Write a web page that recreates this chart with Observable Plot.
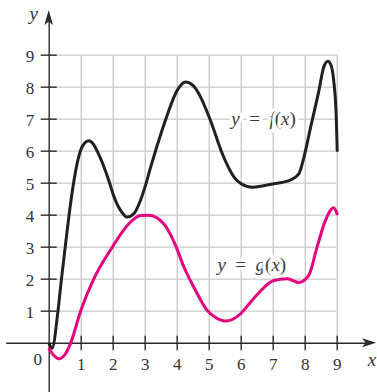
<!DOCTYPE html>
<html><head><meta charset="utf-8">
<script src="https://cdn.jsdelivr.net/npm/d3@7"></script>
<script src="https://cdn.jsdelivr.net/npm/@observablehq/plot@0.6"></script>
<style>body{margin:0;background:#fff} svg{display:block;background:#fff}</style>
</head><body><div id="chart"></div>
<script>
// f(x) samples
const fX = [0, 0.09, 0.27, 0.38, 0.5, 0.62, 0.76, 0.97, 1.1, 1.24, 1.38, 1.5, 1.89, 2.0, 2.23, 2.44, 2.65, 2.85, 3.0, 3.17, 3.35, 3.63, 4.0, 4.26, 4.5, 4.68, 5.04, 5.41, 5.77, 6.0, 6.35, 6.7, 7.02, 7.54, 7.8, 7.96, 8.17, 8.43, 8.58, 8.71, 8.81, 8.89, 8.97, 9.0];
const fY = [-0.02, -0.16, 0.97, 1.98, 3.0, 4.0, 5.0, 6.0, 6.25, 6.33, 6.22, 6.0, 5.0, 4.65, 4.15, 3.94, 4.05, 4.46, 4.9, 5.5, 6.1, 6.96, 7.9, 8.16, 8.05, 7.79, 6.96, 5.92, 5.2, 4.98, 4.87, 4.92, 4.98, 5.1, 5.29, 5.81, 6.75, 7.9, 8.63, 8.81, 8.68, 8.21, 7.06, 6.02];
// g(x) samples
const gX = [0, 0.14, 0.3, 0.51, 0.67, 0.98, 1.39, 1.97, 2.44, 2.85, 3.11, 3.58, 3.95, 4.21, 4.52, 4.94, 5.2, 5.51, 5.98, 6.29, 6.5, 7.02, 7.44, 7.8, 8.11, 8.37, 8.63, 8.89, 9.0];
const gY = [-0.18, -0.38, -0.49, -0.33, 0, 1.0, 2.0, 3.0, 3.68, 3.99, 4.0, 3.73, 3.05, 2.38, 1.75, 1.02, 0.8, 0.69, 0.92, 1.28, 1.52, 1.96, 2.01, 1.9, 2.12, 3.0, 3.83, 4.23, 4.04];

const xTicks = [1, 2, 3, 4, 5, 6, 7, 8, 9];
const yTicks = [1, 2, 3, 4, 5, 6, 7, 8, 9];
const gridMax = 9;
const curveLabels = ["y = f(x)", "y = g(x)"];
const labelX = [6.7, 6.33];
const labelY = [7.02, 2.46];
const axisNames = ["x", "y"];

const xDomain = [-1.522, 10.259];
const yDomain = [-1.541, 10.709];
const xAxisStart = -1.33, xAxisEnd = 10.23, yAxisEnd = 10.4;

const fData = fX.map((x, i) => ({x, y: fY[i]}));
const gData = gX.map((x, i) => ({x, y: gY[i]}));
const labelData = curveLabels.map((t, i) => ({t, x: labelX[i], y: labelY[i]}));

const serif = "Liberation Serif";
const axisColor = "#2b2b2b";

function arrowHeads(index, scales) {
  const g = d3.create("svg:g");
  const x0 = scales.x(0), y0 = scales.y(0);
  const yt = scales.y(yAxisEnd), xr = scales.x(xAxisEnd);
  g.append("path")
    .attr("d", `M${x0},${yt} L${x0 + 4.3},${yt + 15} L${x0},${yt + 11.5} L${x0 - 4.3},${yt + 15} Z`)
    .attr("fill", axisColor);
  g.append("path")
    .attr("d", `M${xr},${y0} L${xr - 14},${y0 - 4.5} L${xr - 10.5},${y0} L${xr - 14},${y0 + 4.5} Z`)
    .attr("fill", axisColor);
  return g.node();
}

const plot = Plot.plot({
  width: 377,
  height: 392,
  margin: 0,
  x: {domain: xDomain, axis: null},
  y: {domain: yDomain, axis: null},
  style: {background: "#fff"},
  marks: [
    Plot.ruleX(xTicks, {x: d => d, y1: 0, y2: gridMax, stroke: "#c9c9cc", strokeWidth: 1.3}),
    Plot.ruleY(yTicks, {y: d => d, x1: 0, x2: gridMax, stroke: "#c9c9cc", strokeWidth: 1.3}),
    Plot.text(labelData, {x: "x", y: "y", text: "t", fontSize: 19, fontFamily: serif, fill: "#3a3a3a", stroke: "white", strokeWidth: 7}),
    Plot.ruleX([0], {y1: yDomain[0], y2: yAxisEnd - 0.3, stroke: axisColor, strokeWidth: 1.4}),
    Plot.ruleY([0], {x1: xAxisStart, x2: xAxisEnd - 0.3, stroke: axisColor, strokeWidth: 1.4}),
    Plot.ruleY(yTicks, {y: d => d, x1: -0.25, x2: 0.25, stroke: axisColor, strokeWidth: 1.4}),
    Plot.ruleX(xTicks, {x: d => d, y1: -0.24, y2: 0.22, stroke: axisColor, strokeWidth: 1.4}),
    arrowHeads,
    Plot.text(yTicks, {x: 0, y: d => d, text: d => String(d), dx: -15, dy: 1.5, textAnchor: "end", fontSize: 17, fontFamily: serif, fill: "#333"}),
    Plot.text(xTicks, {x: d => d, y: 0, text: d => String(d), dy: 21, fontSize: 17, fontFamily: serif, fill: "#333"}),
    Plot.text(["0"], {x: 0, y: 0, text: d => d, dx: -11.5, dy: 16.5, fontSize: 17, fontFamily: serif, fill: "#333"}),
    Plot.text([axisNames[1]], {x: 0, y: yAxisEnd, text: d => d, dx: -15.5, dy: 4, fontSize: 19, fontStyle: "italic", fontFamily: serif, fill: "#333"}),
    Plot.text([axisNames[0]], {x: xAxisEnd, y: 0, text: d => d, dx: -4.5, dy: 17, fontSize: 19, fontStyle: "italic", fontFamily: serif, fill: "#333"}),
    Plot.line(fData, {x: "x", y: "y", curve: "monotone-x", stroke: "#231f20", strokeWidth: 3}),
    Plot.line(gData, {x: "x", y: "y", curve: "monotone-x", stroke: "#e5007e", strokeWidth: 3})
  ]
});

// rebuild the curve labels with italic variables and upright symbols
d3.select(plot).selectAll("text").each(function() {
  const t = this.textContent;
  if (!curveLabels.includes(t)) return;
  const sel = d3.select(this);
  sel.text(null);
  for (const ch of t) {
    if (ch === " ") {
      sel.append("tspan").text("\u2002");
    } else {
      sel.append("tspan").attr("font-style", /[a-z]/.test(ch) ? "italic" : "normal").text(ch);
    }
  }
});

document.getElementById("chart").appendChild(plot);
</script>
</body></html>
